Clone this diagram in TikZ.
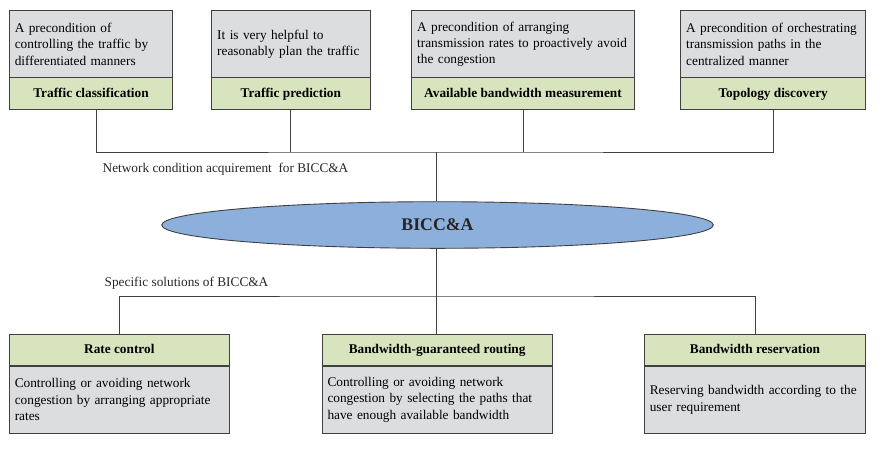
\documentclass[tikz,border=0pt]{standalone}
\usepackage{fontspec}
\setmainfont{Liberation Serif}
\usetikzlibrary{shapes.geometric}
\definecolor{bodygray}{HTML}{DCDDDF}
\definecolor{headgreen}{HTML}{D7E4BD}
\definecolor{ellblue}{HTML}{8DAFDC}
\definecolor{edgecol}{HTML}{404040}
\tikzset{
  boxtext/.style={font=\fontsize{13.3}{16.3}\selectfont},
  bodybox/.style={draw=edgecol, line width=0.9pt, fill=bodygray, boxtext, align=left,
    inner xsep=5.5pt, inner ysep=0pt, text width=#1-11pt, minimum height=67.3pt},
  headbox/.style={draw=edgecol, line width=0.9pt, fill=headgreen, font=\fontsize{13.3}{16.3}\selectfont\bfseries,
    inner sep=0pt, text height=9.6pt, text depth=3pt, minimum width=#1, minimum height=31.8pt, align=center},
  conn/.style={draw=edgecol, line width=0.9pt},
  lbl/.style={boxtext, inner sep=0pt, text=black!85}
}
\begin{document}
\begin{tikzpicture}[x=1pt,y=-1pt]
\useasboundingbox (0,0) rectangle (888,451);
% top boxes
\node[bodybox=163.4pt] (t1) at (91,44.35) {A precondition of\\controlling the traffic by\\differentiated manners};
\node[headbox=163.4pt] (h1) at (91,93.7) {Traffic classification};
\node[bodybox=158.3pt] (t2) at (290.85,44.35) {It is very helpful to\\reasonably plan the traffic};
\node[headbox=158.3pt] (h2) at (290.85,93.7) {Traffic prediction};
\node[bodybox=222.6pt] (t3) at (523,44.35) {A precondition of arranging\\transmission rates to proactively avoid\\the congestion};
\node[headbox=222.6pt] (h3) at (523,93.7) {Available bandwidth measurement};
\node[bodybox=185pt] (t4) at (773.2,44.35) {A precondition of orchestrating\\transmission paths in the\\centralized manner};
\node[headbox=185pt] (h4) at (773.2,93.7) {Topology discovery};
% ellipse
\node[ellipse, draw=edgecol, line width=0.9pt, fill=ellblue, minimum width=551.6pt, minimum height=46.6pt, inner sep=0pt,
  font=\fontsize{17.8}{20}\selectfont\bfseries, text=black!85] (ell) at (437.5,225) {BICC\&A};
% bus coordinates
\coordinate (busT) at (436.7,152);
\coordinate (busB) at (436.7,296);
% labels
\node[lbl] (l1) at (225.5,169) {Network condition acquirement\ \ for BICC\&A};
\node[lbl] (l2) at (186.5,283) {Specific solutions of BICC\&A};
% bottom boxes
\node[headbox=220pt] (b1) at (119.3,350) {Rate control};
\node[bodybox=220pt] (c1) at (119.3,399.65) {Controlling or avoiding network\\congestion by arranging appropriate\\rates};
\node[headbox=230.3pt] (b2) at (437.15,350) {Bandwidth-guaranteed routing};
\node[bodybox=230.3pt] (c2) at (437.15,399.65) {Controlling or avoiding network\\congestion by selecting the paths that\\have enough available bandwidth};
\node[headbox=221.4pt] (b3) at (755,350) {Bandwidth reservation};
\node[bodybox=221.4pt] (c3) at (755,399.65) {Reserving bandwidth according to the\\user requirement};
% connectors
\draw[conn] ([xshift=5.3pt]h1.south) |- (busT) -| (h4.south);
\draw[conn] (h2.south) -- (h2.south |- busT);
\draw[conn] (h3.south) -- (h3.south |- busT);
\draw[conn] (busT) -- (busT |- ell.north);
\draw[conn] (busB |- ell.south) -- (busB |- b2.north);
\draw[conn] (b1.north) |- (busB) -| (b3.north);
\end{tikzpicture}
\end{document}
